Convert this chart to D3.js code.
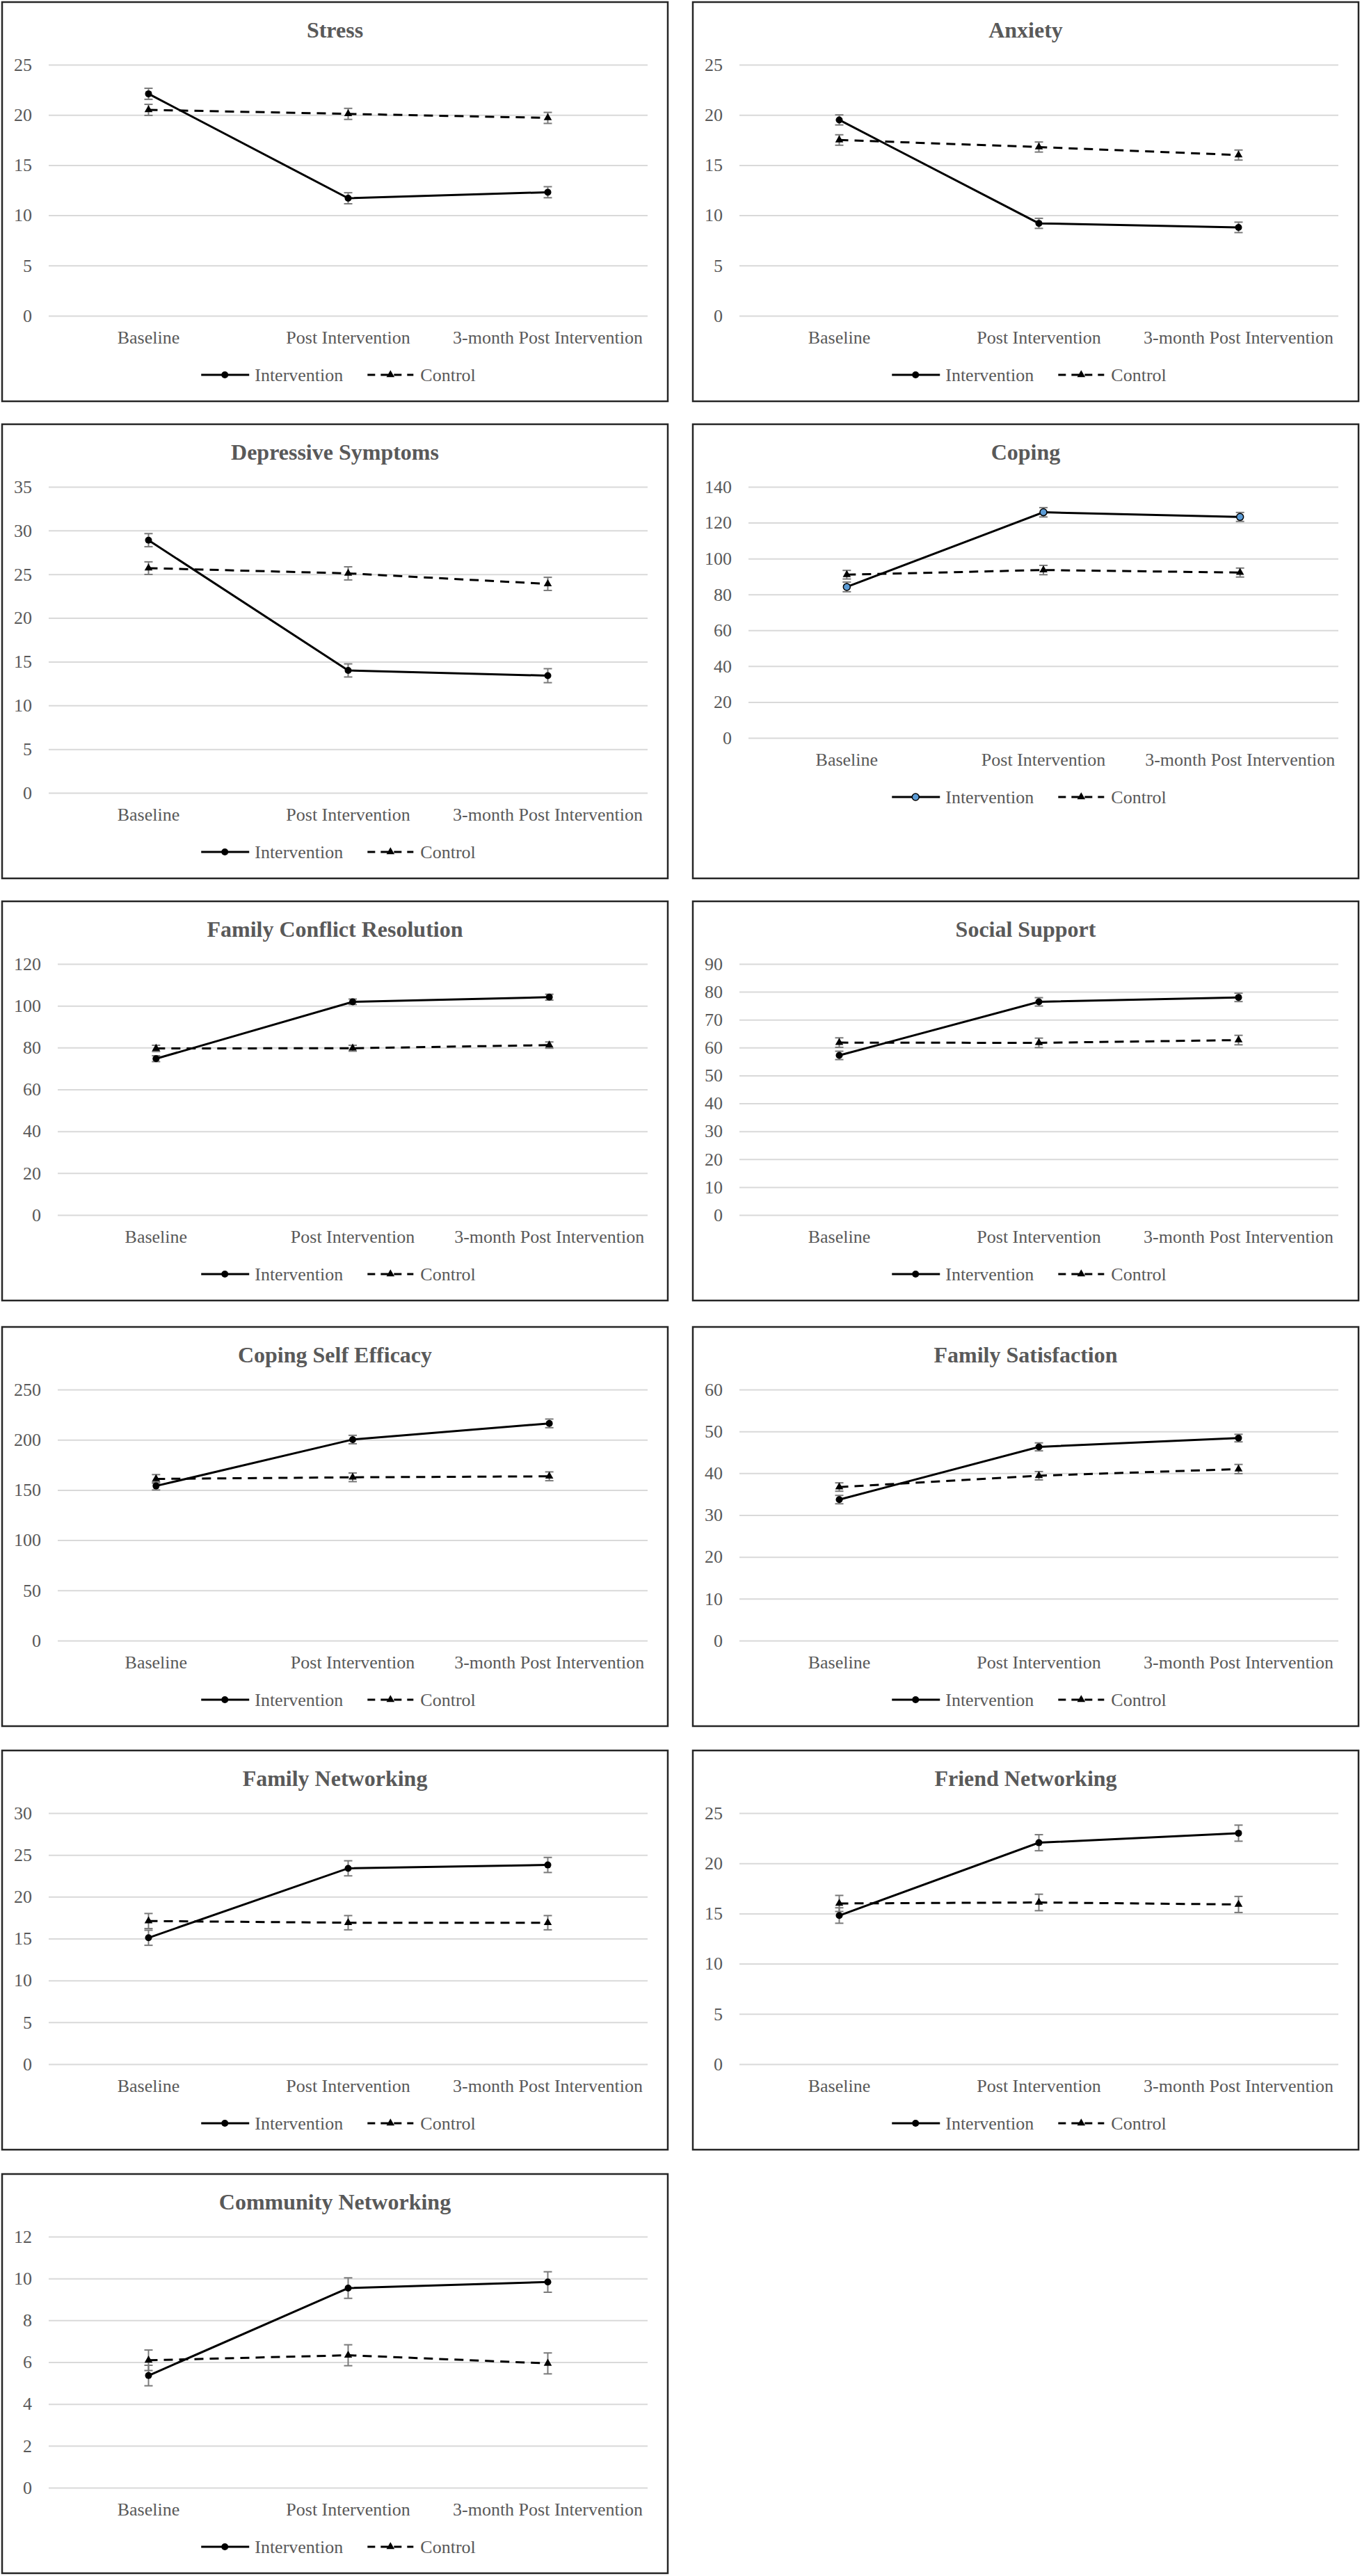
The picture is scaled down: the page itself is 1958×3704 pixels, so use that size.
<!DOCTYPE html>
<html>
<head>
<meta charset="utf-8">
<script src="https://cdn.jsdelivr.net/npm/d3@7"></script>
<style>
  body { margin: 0; background: #fff; }
  text { font-family: "Liberation Serif", "Times New Roman", serif; }
</style>
</head>
<body>
<div id="chart"></div>
<script>
// ---- data ----
const timepoints = ["Baseline", "Post Intervention", "3-month Post Intervention"];
const seriesNames = ["Intervention", "Control"];
const outcomes = ["Stress", "Anxiety", "Depressive Symptoms", "Coping",
  "Family Conflict Resolution", "Social Support", "Coping Self Efficacy",
  "Family Satisfaction", "Family Networking", "Friend Networking", "Community Networking"];
const yMax  = [25, 25, 35, 140, 120, 90, 250, 60, 30, 25, 12];
const yStep = [5, 5, 5, 20, 20, 10, 50, 10, 5, 5, 2];

const interventionMean = [
  [22.1, 11.7, 12.3], [19.5, 9.2, 8.8], [28.9, 14.0, 13.4], [84.2, 125.8, 123.2],
  [74.7, 101.9, 104.1], [57.2, 76.4, 78.0], [154.0, 200.2, 216.3], [33.7, 46.3, 48.4],
  [15.1, 23.4, 23.8], [14.8, 22.05, 23.0], [5.36, 9.54, 9.83]];
const interventionErr = [
  [0.55, 0.55, 0.55], [0.5, 0.5, 0.52], [0.75, 0.75, 0.8], [2.7, 2.6, 2.5],
  [1.4, 1.3, 1.4], [1.5, 1.5, 1.5], [4.0, 4.2, 4.3], [1.0, 0.95, 0.9],
  [0.9, 0.9, 0.9], [0.77, 0.8, 0.8], [0.49, 0.49, 0.49]];
const controlMean = [
  [20.5, 20.1, 19.7], [17.5, 16.8, 16.0], [25.7, 25.1, 23.9], [91.0, 93.6, 92.2],
  [79.6, 79.7, 81.2], [61.8, 61.7, 62.7], [161.0, 162.6, 163.6], [36.7, 39.4, 41.0],
  [17.1, 16.9, 16.9], [16.0, 16.1, 15.9], [6.09, 6.33, 5.94]];
const controlErr = [
  [0.55, 0.55, 0.55], [0.52, 0.5, 0.5], [0.72, 0.75, 0.75], [2.4, 2.6, 2.5],
  [1.5, 1.4, 1.5], [1.7, 1.7, 1.7], [4.3, 4.3, 4.4], [1.0, 1.0, 1.1],
  [0.9, 0.85, 0.85], [0.8, 0.82, 0.8], [0.49, 0.5, 0.5]];

// ---- layout ----
const width = 1958, height = 3704;
const colLeft = [3, 996], panelW = 957;
const rowTop = [3, 610, 1296, 1908, 2517, 3126];
const rowH = [574, 653, 574, 574, 574, 574];
const baseH = 574;
const grey = "#595959";

const svg = d3.select("#chart").append("svg")
  .attr("width", width).attr("height", height);
svg.append("rect").attr("width", width).attr("height", height).attr("fill", "#fff");

const triangle = d3.symbol().type(d3.symbolTriangle).size(58);

outcomes.forEach((name, i) => {
  const row = Math.floor(i / 2), col = i % 2;
  const h = rowH[row];
  const g = svg.append("g")
    .attr("transform", "translate(" + colLeft[col] + "," + rowTop[row] + ")");

  g.append("rect")
    .attr("width", panelW).attr("height", h)
    .attr("fill", "#fff").attr("stroke", "#262626").attr("stroke-width", 2.5);

  // the Depressive Symptoms plot stretches into the taller row, Coping does not
  const plotH = (i === 2 ? h : baseH);
  const digits = String(yMax[i]).length;
  const left = 18 + digits * 13 + 23;
  const right = panelW - 29;
  const top = 90, bottom = plotH - 123;

  g.append("text")
    .attr("x", panelW / 2).attr("y", 51)
    .attr("text-anchor", "middle")
    .attr("font-size", 32).attr("font-weight", "bold")
    .attr("fill", grey)
    .text(name);

  const y = d3.scaleLinear().domain([0, yMax[i]]).range([bottom, top]);
  const x = d3.scaleBand().domain(timepoints).range([left, right]);
  const cx = d => x(d) + x.bandwidth() / 2;

  const yAxis = g.append("g")
    .attr("transform", "translate(" + left + ",0)")
    .call(d3.axisLeft(y)
      .tickValues(d3.range(0, yMax[i] + yStep[i] / 2, yStep[i]))
      .tickSize(-(right - left))
      .tickPadding(24));
  yAxis.select(".domain").remove();
  yAxis.selectAll(".tick line").attr("stroke", "#d9d9d9").attr("stroke-width", 2);
  yAxis.selectAll(".tick text")
    .attr("fill", grey).attr("font-size", 26)
    .attr("font-family", "Liberation Serif, Times New Roman, serif");

  const xAxis = g.append("g")
    .attr("transform", "translate(0," + bottom + ")")
    .call(d3.axisBottom(x).tickSize(0).tickPadding(22));
  xAxis.select(".domain").remove();
  xAxis.selectAll(".tick text")
    .attr("fill", grey).attr("font-size", 26)
    .attr("font-family", "Liberation Serif, Times New Roman, serif");

  const series = [
    { name: seriesNames[0], mean: interventionMean[i], err: interventionErr[i], dash: null },
    { name: seriesNames[1], mean: controlMean[i], err: controlErr[i], dash: "13,9" }
  ];
  const circleFill = (i === 3 ? "#5b9bd5" : "#000");

  const line = d3.line()
    .x((d, j) => cx(timepoints[j]))
    .y(d => y(d));

  series.forEach(s => {
    const eb = g.append("g").attr("stroke", "#7a7a7a").attr("stroke-width", 2);
    s.mean.forEach((m, j) => {
      const px = cx(timepoints[j]);
      const y1 = y(m - s.err[j]), y2 = y(m + s.err[j]);
      eb.append("line").attr("x1", px).attr("x2", px).attr("y1", y1).attr("y2", y2);
      eb.append("line").attr("x1", px - 6).attr("x2", px + 6).attr("y1", y1).attr("y2", y1);
      eb.append("line").attr("x1", px - 6).attr("x2", px + 6).attr("y1", y2).attr("y2", y2);
    });
  });

  series.forEach(s => {
    g.append("path")
      .datum(s.mean)
      .attr("d", line)
      .attr("fill", "none")
      .attr("stroke", "#000")
      .attr("stroke-width", 3)
      .attr("stroke-dasharray", s.dash);
  });

  // markers
  g.selectAll(".mk-int").data(series[0].mean).enter().append("circle")
    .attr("cx", (d, j) => cx(timepoints[j])).attr("cy", d => y(d))
    .attr("r", 5).attr("fill", circleFill)
    .attr("stroke", "#000").attr("stroke-width", i === 3 ? 1.5 : 0);
  g.selectAll(".mk-ctl").data(series[1].mean).enter().append("path")
    .attr("d", triangle)
    .attr("transform", (d, j) => "translate(" + cx(timepoints[j]) + "," + y(d) + ")")
    .attr("fill", "#000");

  // legend, sits under the x labels
  const ly = bottom + 85;
  const leg = g.append("g");
  const t1 = leg.append("text").attr("font-size", 26).attr("fill", grey).text(seriesNames[0]);
  const t2 = leg.append("text").attr("font-size", 26).attr("fill", grey).text(seriesNames[1]);
  const w1 = t1.node().getComputedTextLength(), w2 = t2.node().getComputedTextLength();
  const total = 69 + 8 + w1 + 35 + 66 + 10 + w2;
  let lx = panelW / 2 + 5 - total / 2;

  leg.append("line").attr("x1", lx).attr("x2", lx + 69).attr("y1", ly).attr("y2", ly)
    .attr("stroke", "#000").attr("stroke-width", 3);
  leg.append("circle").attr("cx", lx + 34).attr("cy", ly).attr("r", 5)
    .attr("fill", circleFill).attr("stroke", "#000").attr("stroke-width", i === 3 ? 1.5 : 0);
  t1.attr("x", lx + 77).attr("y", ly + 9);
  lx += 77 + w1 + 35;
  leg.append("line").attr("x1", lx).attr("x2", lx + 66).attr("y1", ly).attr("y2", ly)
    .attr("stroke", "#000").attr("stroke-width", 3).attr("stroke-dasharray", "11,8");
  leg.append("path").attr("d", triangle)
    .attr("transform", "translate(" + (lx + 33) + "," + ly + ")").attr("fill", "#000");
  t2.attr("x", lx + 76).attr("y", ly + 9);
});
</script>
</body>
</html>
